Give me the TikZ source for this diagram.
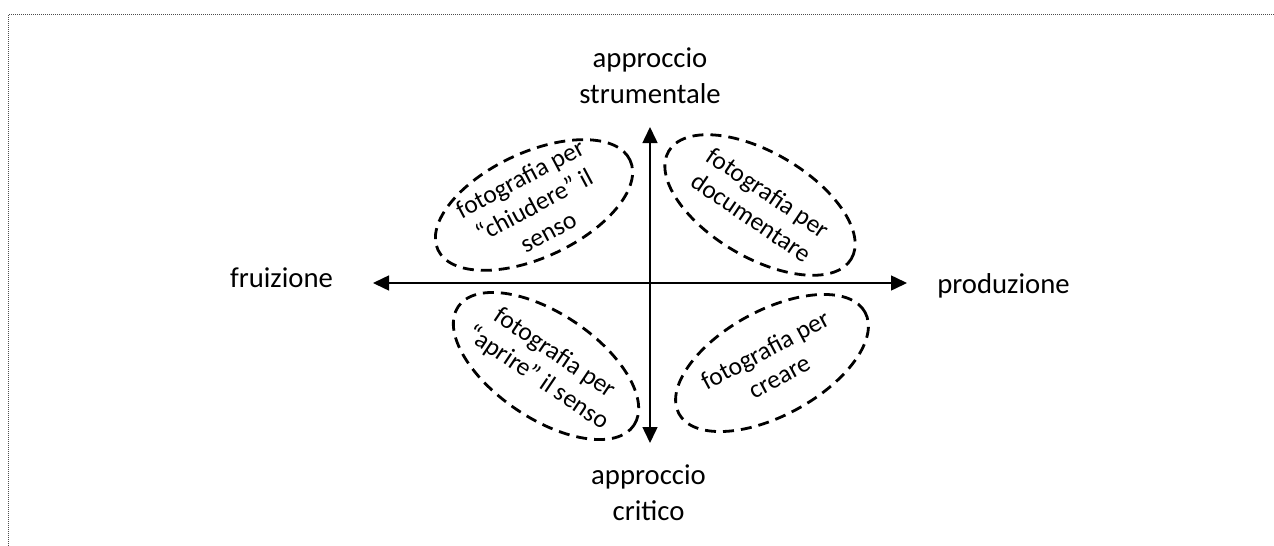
\documentclass[tikz,border=0pt]{standalone}
\usepackage{fontspec}
\setmainfont{Carlito}
\usetikzlibrary{shapes.geometric,arrows.meta}
\tikzset{>={Triangle[length=16pt,width=15pt]}}

\begin{document}
\begin{tikzpicture}[x=1pt,y=-1pt,
    lab/.style={font=\fontsize{28.7}{36}\selectfont, align=center, inner sep=0pt},
    blob/.style={ellipse, draw, line width=2.8pt, dash pattern=on 11pt off 7pt,
      minimum width=212pt, minimum height=105pt, inner sep=0pt},
    blobtext/.style={font=\fontsize{25.5}{30}\selectfont, align=center, inner sep=0pt}]
  \useasboundingbox (0,0) rectangle (1274,546);
  \draw[black!70, line width=1pt, dash pattern=on 1pt off 1pt]
    (8.5,546) -- (8.5,14.5) -- (1274,14.5);

  % axes
  \coordinate (top) at (650,127);
  \coordinate (bot) at (650,443);
  \coordinate (lft) at (373,283);
  \coordinate (rgt) at (907,283);
  \draw[<->, line width=1.5pt] (lft) -- (rgt);
  \draw[<->, line width=1.5pt] (top) -- (bot);

  \node[lab, anchor=base] (fruizione) at (281.5,287) {fruizione};
  \node[lab, anchor=base] (produzione) at (1003.5,293) {produzione};
  \node[lab, anchor=base] (strumentale) at (650,103) {approccio\\strumentale};
  \node[lab, anchor=base] (critico) at (648.5,520) {approccio\\critico};

  % the four kinds of photography
  \foreach \nm/\pos/\ea/\ta/\txt in {
      chiudere/{534,205}/25/28/{fotografia per\\“chiudere” il\\senso},
      documentare/{760,205}/-30.5/-34/{fotografia per\\documentare},
      aprire/{546,366}/-34/-34/{fotografia per\\“aprire” il senso},
      creare/{772,363}/28.6/28/{fotografia per\\creare}} {
    \node[blob, rotate=\ea] (\nm) at (\pos) {};
    \node[blobtext, rotate=\ta] (\nm-txt) at (\nm.center) {\txt};
  }
\end{tikzpicture}
\end{document}
